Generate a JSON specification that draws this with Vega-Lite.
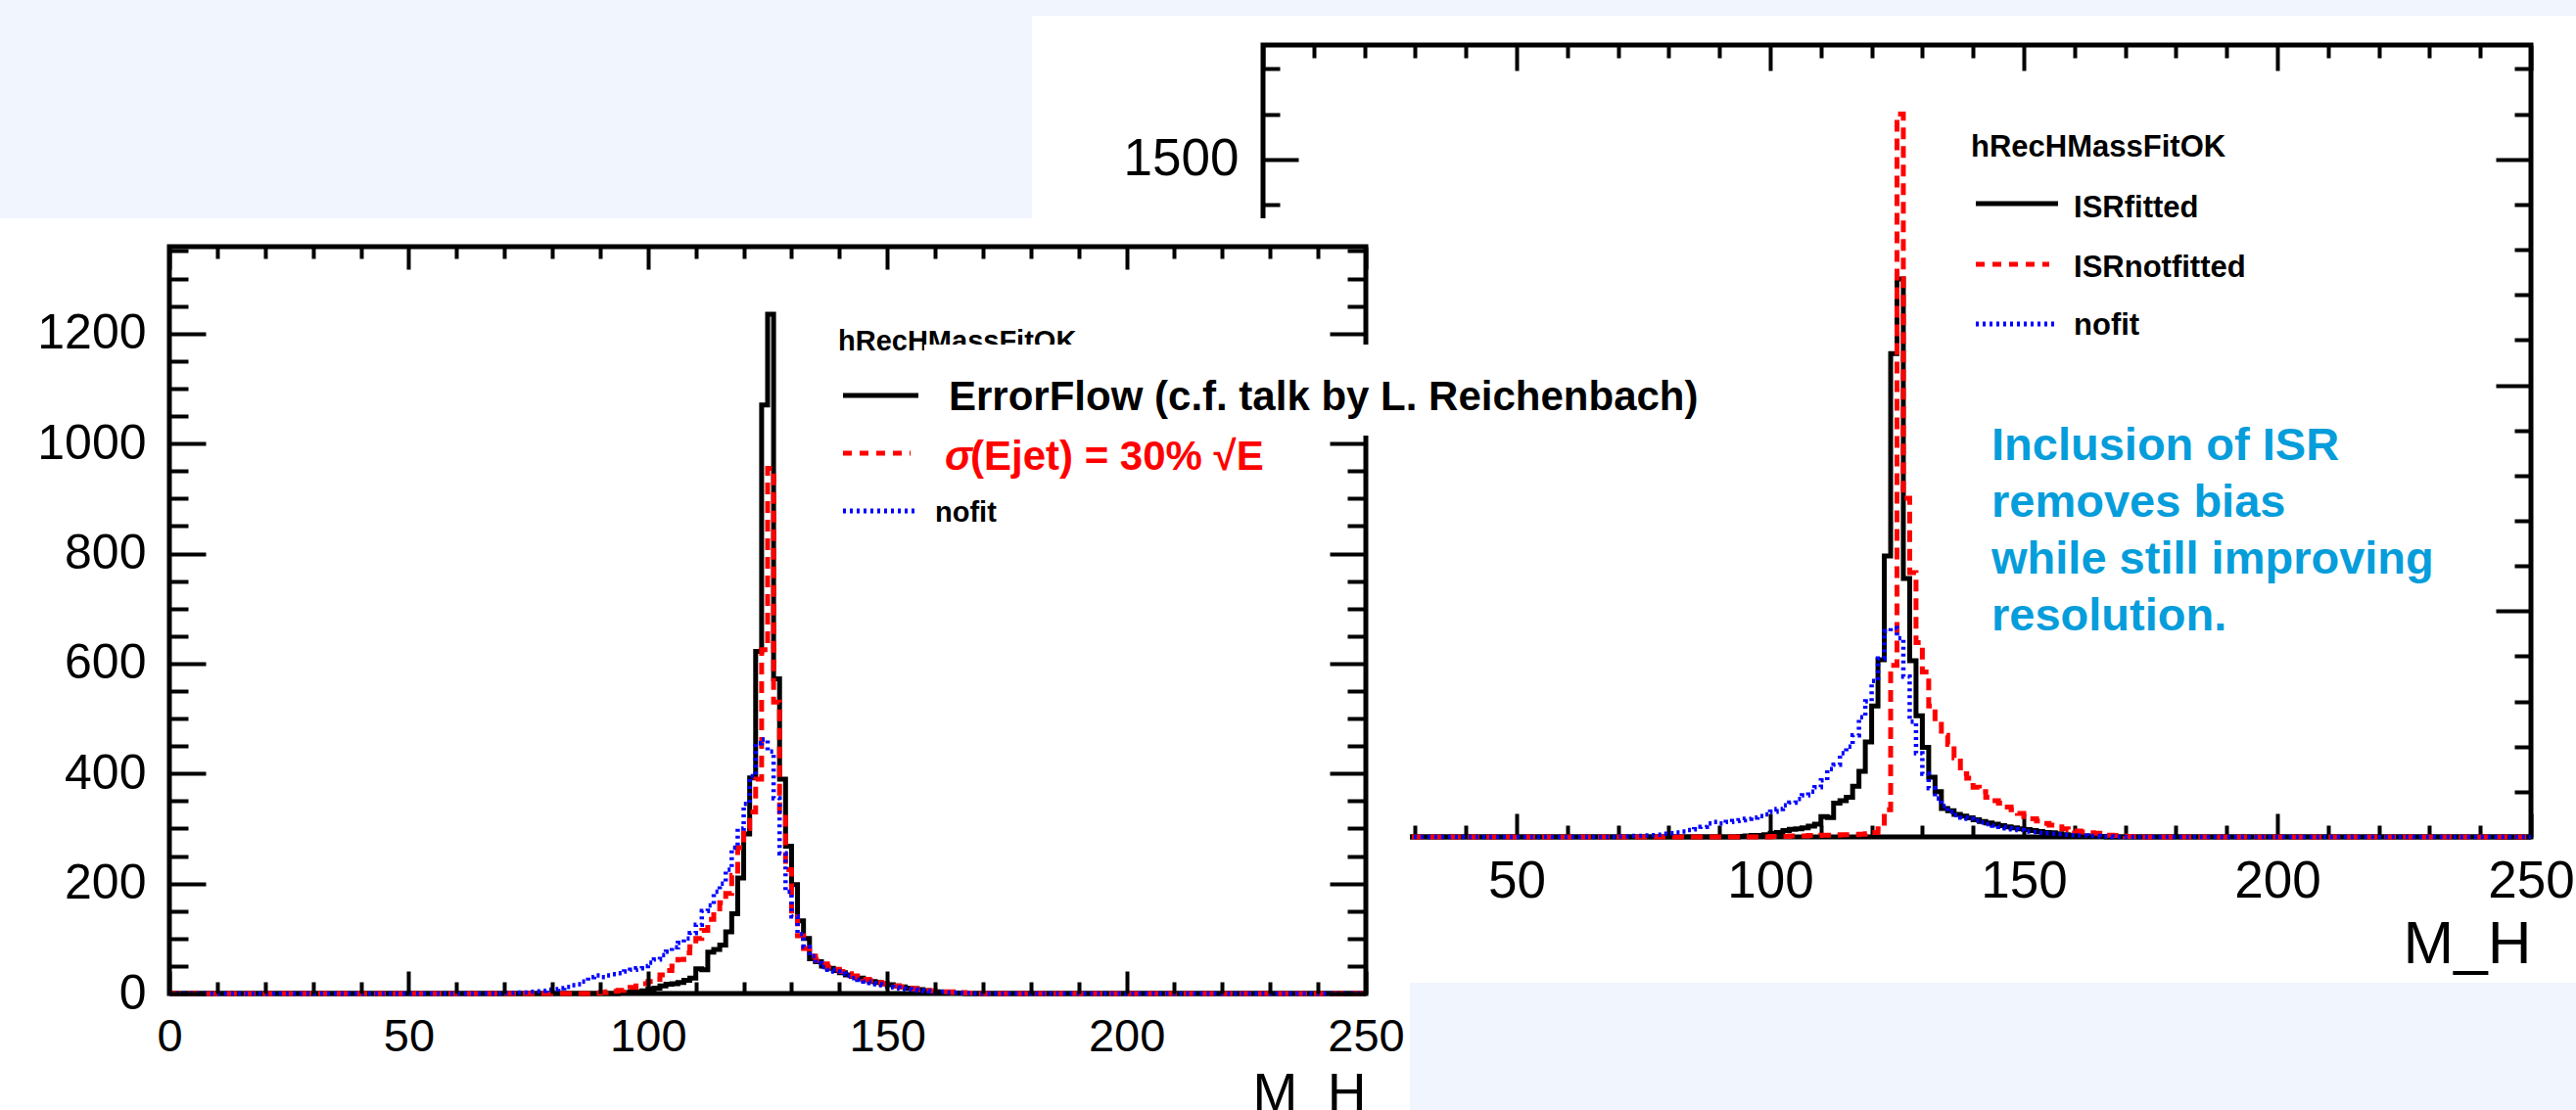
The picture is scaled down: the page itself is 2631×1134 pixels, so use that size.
{
"$schema": "https://vega.github.io/schema/vega-lite/v6.json",
"width": 2631, "height": 1134, "autosize": "none", "padding": 0,
"background": "#ffffff",
"config": {"view": {"stroke": null, "fill": null},
  "axis": {"grid": false, "domain": false, "format": "d", "labelFont": "Liberation Sans", "titleFont": "Liberation Sans", "labelColor": "#000000", "titleColor": "#000000", "tickColor": "#000000", "tickWidth": 4, "tickCap": "butt", "labelOverlap": false, "labelFlush": false, "labelBound": false},
  "text": {"font": "Liberation Sans"}},
"datasets": {
"black": [{"mass":0,"entries":0},{"mass":93.75,"entries":1},{"mass":95,"entries":2},{"mass":96.25,"entries":3},{"mass":97.5,"entries":3},{"mass":98.75,"entries":5},{"mass":100,"entries":8},{"mass":101.25,"entries":10},{"mass":102.5,"entries":14},{"mass":103.75,"entries":17},{"mass":105,"entries":18},{"mass":106.25,"entries":20},{"mass":107.5,"entries":24},{"mass":108.75,"entries":28},{"mass":110,"entries":45},{"mass":111.25,"entries":43},{"mass":112.5,"entries":75},{"mass":113.75,"entries":80},{"mass":115,"entries":88},{"mass":116.25,"entries":112},{"mass":117.5,"entries":145},{"mass":118.75,"entries":210},{"mass":120,"entries":290},{"mass":121.25,"entries":392},{"mass":122.5,"entries":622},{"mass":123.75,"entries":1070},{"mass":125,"entries":1235},{"mass":126.25,"entries":572},{"mass":127.5,"entries":390},{"mass":128.75,"entries":268},{"mass":130,"entries":198},{"mass":131.25,"entries":132},{"mass":132.5,"entries":100},{"mass":133.75,"entries":63},{"mass":135,"entries":58},{"mass":136.25,"entries":50},{"mass":137.5,"entries":46},{"mass":138.75,"entries":42},{"mass":140,"entries":38},{"mass":141.25,"entries":34},{"mass":142.5,"entries":31},{"mass":143.75,"entries":28},{"mass":145,"entries":25},{"mass":146.25,"entries":22},{"mass":147.5,"entries":20},{"mass":148.75,"entries":18},{"mass":150,"entries":16},{"mass":151.25,"entries":14},{"mass":152.5,"entries":12},{"mass":153.75,"entries":10},{"mass":155,"entries":9},{"mass":156.25,"entries":7},{"mass":157.5,"entries":5},{"mass":158.75,"entries":4},{"mass":160,"entries":3},{"mass":161.25,"entries":2},{"mass":162.5,"entries":2},{"mass":163.75,"entries":1},{"mass":165,"entries":1},{"mass":166.25,"entries":0},{"mass":250,"entries":0}],
"blue": [{"mass":0,"entries":0},{"mass":70,"entries":1},{"mass":71.25,"entries":1},{"mass":72.5,"entries":2},{"mass":73.75,"entries":2},{"mass":75,"entries":3},{"mass":76.25,"entries":4},{"mass":77.5,"entries":5},{"mass":78.75,"entries":7},{"mass":80,"entries":8},{"mass":81.25,"entries":10},{"mass":82.5,"entries":12},{"mass":83.75,"entries":15},{"mass":85,"entries":17},{"mass":86.25,"entries":22},{"mass":87.5,"entries":30},{"mass":88.75,"entries":33},{"mass":90,"entries":30},{"mass":91.25,"entries":33},{"mass":92.5,"entries":35},{"mass":93.75,"entries":37},{"mass":95,"entries":40},{"mass":96.25,"entries":43},{"mass":97.5,"entries":46},{"mass":98.75,"entries":50},{"mass":100,"entries":56},{"mass":101.25,"entries":62},{"mass":102.5,"entries":70},{"mass":103.75,"entries":76},{"mass":105,"entries":84},{"mass":106.25,"entries":92},{"mass":107.5,"entries":100},{"mass":108.75,"entries":110},{"mass":110,"entries":125},{"mass":111.25,"entries":150},{"mass":112.5,"entries":160},{"mass":113.75,"entries":185},{"mass":115,"entries":200},{"mass":116.25,"entries":225},{"mass":117.5,"entries":265},{"mass":118.75,"entries":300},{"mass":120,"entries":345},{"mass":121.25,"entries":395},{"mass":122.5,"entries":455},{"mass":123.75,"entries":462},{"mass":125,"entries":440},{"mass":126.25,"entries":355},{"mass":127.5,"entries":255},{"mass":128.75,"entries":185},{"mass":130,"entries":140},{"mass":131.25,"entries":108},{"mass":132.5,"entries":85},{"mass":133.75,"entries":68},{"mass":135,"entries":55},{"mass":136.25,"entries":48},{"mass":137.5,"entries":43},{"mass":138.75,"entries":40},{"mass":140,"entries":36},{"mass":141.25,"entries":32},{"mass":142.5,"entries":28},{"mass":143.75,"entries":25},{"mass":145,"entries":22},{"mass":146.25,"entries":19},{"mass":147.5,"entries":17},{"mass":148.75,"entries":15},{"mass":150,"entries":12},{"mass":151.25,"entries":11},{"mass":152.5,"entries":9},{"mass":153.75,"entries":8},{"mass":155,"entries":7},{"mass":156.25,"entries":6},{"mass":157.5,"entries":5},{"mass":158.75,"entries":4},{"mass":160,"entries":3},{"mass":161.25,"entries":3},{"mass":162.5,"entries":2},{"mass":163.75,"entries":2},{"mass":165,"entries":1},{"mass":166.25,"entries":1},{"mass":167.5,"entries":0},{"mass":250,"entries":0}],
"redL": [{"mass":0,"entries":0},{"mass":88.75,"entries":1},{"mass":90,"entries":2},{"mass":91.25,"entries":3},{"mass":92.5,"entries":4},{"mass":93.75,"entries":6},{"mass":95,"entries":8},{"mass":96.25,"entries":11},{"mass":97.5,"entries":14},{"mass":98.75,"entries":18},{"mass":100,"entries":22},{"mass":101.25,"entries":26},{"mass":102.5,"entries":34},{"mass":103.75,"entries":42},{"mass":105,"entries":50},{"mass":106.25,"entries":62},{"mass":107.5,"entries":74},{"mass":108.75,"entries":85},{"mass":110,"entries":100},{"mass":111.25,"entries":115},{"mass":112.5,"entries":135},{"mass":113.75,"entries":148},{"mass":115,"entries":165},{"mass":116.25,"entries":182},{"mass":117.5,"entries":215},{"mass":118.75,"entries":265},{"mass":120,"entries":300},{"mass":121.25,"entries":330},{"mass":122.5,"entries":390},{"mass":123.75,"entries":625},{"mass":125,"entries":955},{"mass":126.25,"entries":530},{"mass":127.5,"entries":330},{"mass":128.75,"entries":225},{"mass":130,"entries":150},{"mass":131.25,"entries":105},{"mass":132.5,"entries":82},{"mass":133.75,"entries":68},{"mass":135,"entries":60},{"mass":136.25,"entries":54},{"mass":137.5,"entries":48},{"mass":138.75,"entries":44},{"mass":140,"entries":40},{"mass":141.25,"entries":36},{"mass":142.5,"entries":32},{"mass":143.75,"entries":29},{"mass":145,"entries":26},{"mass":146.25,"entries":23},{"mass":147.5,"entries":20},{"mass":148.75,"entries":18},{"mass":150,"entries":16},{"mass":151.25,"entries":14},{"mass":152.5,"entries":12},{"mass":153.75,"entries":10},{"mass":155,"entries":9},{"mass":156.25,"entries":7},{"mass":157.5,"entries":6},{"mass":158.75,"entries":5},{"mass":160,"entries":4},{"mass":161.25,"entries":3},{"mass":162.5,"entries":3},{"mass":163.75,"entries":2},{"mass":165,"entries":2},{"mass":166.25,"entries":1},{"mass":167.5,"entries":1},{"mass":168.75,"entries":0},{"mass":250,"entries":0}],
"redR": [{"mass":0,"entries":0},{"mass":100,"entries":1},{"mass":101.25,"entries":1},{"mass":102.5,"entries":1},{"mass":103.75,"entries":2},{"mass":105,"entries":2},{"mass":106.25,"entries":2},{"mass":107.5,"entries":3},{"mass":108.75,"entries":3},{"mass":110,"entries":4},{"mass":111.25,"entries":4},{"mass":112.5,"entries":4},{"mass":113.75,"entries":5},{"mass":115,"entries":5},{"mass":116.25,"entries":5},{"mass":117.5,"entries":6},{"mass":118.75,"entries":7},{"mass":120,"entries":10},{"mass":121.25,"entries":18},{"mass":122.5,"entries":60},{"mass":123.75,"entries":380},{"mass":125,"entries":1600},{"mass":126.25,"entries":750},{"mass":127.5,"entries":585},{"mass":128.75,"entries":430},{"mass":130,"entries":365},{"mass":131.25,"entries":290},{"mass":132.5,"entries":255},{"mass":133.75,"entries":225},{"mass":135,"entries":205},{"mass":136.25,"entries":175},{"mass":137.5,"entries":140},{"mass":138.75,"entries":130},{"mass":140,"entries":110},{"mass":141.25,"entries":100},{"mass":142.5,"entries":88},{"mass":143.75,"entries":80},{"mass":145,"entries":75},{"mass":146.25,"entries":66},{"mass":147.5,"entries":60},{"mass":148.75,"entries":52},{"mass":150,"entries":45},{"mass":151.25,"entries":40},{"mass":152.5,"entries":35},{"mass":153.75,"entries":30},{"mass":155,"entries":26},{"mass":156.25,"entries":22},{"mass":157.5,"entries":18},{"mass":158.75,"entries":16},{"mass":160,"entries":13},{"mass":161.25,"entries":11},{"mass":162.5,"entries":9},{"mass":163.75,"entries":8},{"mass":165,"entries":6},{"mass":166.25,"entries":4},{"mass":167.5,"entries":3},{"mass":168.75,"entries":2},{"mass":170,"entries":1},{"mass":171.25,"entries":1},{"mass":172.5,"entries":0},{"mass":250,"entries":0}]
},
"resolve": {"scale": {"x": "independent", "y": "independent"}},
"layer": [
{
"resolve": {"axis": {"x": "independent", "y": "independent"}},
"layer": [
 {"data": {"values": [{}]}, "mark": {"type": "rect", "color": "#f0f5fe"},
  "encoding": {
   "x": {"datum": -260, "type": "quantitative", "scale": {"domain": [0,250], "range": [1290,2585], "nice": false, "zero": false},
     "axis": {"orient": "bottom", "offset": -279, "values": [0,50,100,150,200,250], "ticks": false, "tickSize": 0, "labelPadding": 19, "labelFontSize": 53, "title": "M_H", "titleFontSize": 62, "titleFontWeight": "normal", "titleX": 2585, "titleY": 128, "titleAlign": "right", "titleBaseline": "alphabetic", "zindex": 0}},
   "x2": {"datum": -45.56},
   "y": {"datum": 1900, "type": "quantitative", "scale": {"domain": [0,1753], "range": [855,46], "nice": false, "zero": false},
     "axis": {"orient": "left", "offset": -1290, "values": [0,500,1000,1500], "ticks": false, "tickSize": 0, "labelPadding": 25, "labelFontSize": 53, "title": null, "zindex": 0}},
   "y2": {"datum": 1369.4}}},
 {"data": {"values": [{}]}, "mark": {"type": "rect", "color": "#f0f5fe"},
  "encoding": {
   "x": {"datum": -45.56, "type": "quantitative", "scale": {"domain": [0,250], "range": [1290,2585], "nice": false, "zero": false},
     "axis": {"orient": "bottom", "offset": -279, "values": [0,50,100,150,200,250], "labels": false, "tickSize": -24, "title": null, "zindex": 0}},
   "x2": {"datum": 270},
   "y": {"datum": 1900, "type": "quantitative", "scale": {"domain": [0,1753], "range": [855,46], "nice": false, "zero": false},
     "axis": {"orient": "left", "offset": -1290, "values": [0,500,1000,1500], "labels": false, "tickSize": -36, "title": null, "zindex": 0}},
   "y2": {"datum": 1818}}},
 {"data": {"values": [{}]}, "mark": {"type": "rect", "color": "#f0f5fe"},
  "encoding": {
   "x": {"datum": 28.96, "type": "quantitative", "scale": {"domain": [0,250], "range": [1290,2585], "nice": false, "zero": false},
     "axis": {"orient": "bottom", "offset": -279, "values": [10,20,30,40,60,70,80,90,110,120,130,140,160,170,180,190,210,220,230,240], "labels": false, "tickSize": -12, "title": null, "zindex": 0}},
   "x2": {"datum": 270},
   "y": {"datum": -322.9, "type": "quantitative", "scale": {"domain": [0,1753], "range": [855,46], "nice": false, "zero": false},
     "axis": {"orient": "left", "offset": -1290, "values": [100,200,300,400,600,700,800,900,1100,1200,1300,1400,1600,1700], "labels": false, "tickSize": -17, "title": null, "zindex": 0}},
   "y2": {"datum": -650}}},
 {"data": {"values": [{}]}, "mark": {"type": "rect", "filled": false, "color": "#000000", "strokeWidth": 5},
  "encoding": {
   "x": {"datum": 0, "type": "quantitative", "scale": {"domain": [0,250], "range": [1290,2585], "nice": false, "zero": false},
     "axis": {"orient": "top", "offset": -46, "values": [0,50,100,150,200,250], "labels": false, "tickSize": -26, "title": null, "zindex": 0}},
   "x2": {"datum": 250},
   "y": {"datum": 0, "type": "quantitative", "scale": {"domain": [0,1753], "range": [855,46], "nice": false, "zero": false},
     "axis": {"orient": "right", "offset": -46, "values": [0,500,1000,1500], "labels": false, "tickSize": -36, "title": null, "zindex": 0}},
   "y2": {"datum": 1753}}},
 {"data": {"name": "black"}, "mark": {"type": "line", "interpolate": "step-after", "color": "#000000", "strokeWidth": 5},
  "encoding": {
   "x": {"field": "mass", "type": "quantitative", "scale": {"domain": [0,250], "range": [1290,2585], "nice": false, "zero": false},
     "axis": {"orient": "top", "offset": -46, "values": [10,20,30,40,60,70,80,90,110,120,130,140,160,170,180,190,210,220,230,240], "labels": false, "tickSize": -13, "title": null, "zindex": 0}},
   "y": {"field": "entries", "type": "quantitative", "scale": {"domain": [0,1753], "range": [855,46], "nice": false, "zero": false},
     "axis": {"orient": "right", "offset": -46, "values": [100,200,300,400,600,700,800,900,1100,1200,1300,1400,1600,1700], "labels": false, "tickSize": -17, "title": null, "zindex": 0}}}},
 {"data": {"name": "redR"}, "mark": {"type": "line", "interpolate": "step-after", "color": "#ff0000", "strokeWidth": 5, "strokeDash": [12,7]},
  "encoding": {
   "x": {"field": "mass", "type": "quantitative", "scale": {"domain": [0,250], "range": [1290,2585], "nice": false, "zero": false}, "axis": null},
   "y": {"field": "entries", "type": "quantitative", "scale": {"domain": [0,1753], "range": [855,46], "nice": false, "zero": false}, "axis": null}}},
 {"data": {"name": "blue"}, "mark": {"type": "line", "interpolate": "step-after", "color": "#0000ff", "strokeWidth": 4.5, "strokeDash": [3,4]},
  "encoding": {
   "x": {"field": "mass", "type": "quantitative", "scale": {"domain": [0,250], "range": [1290,2585], "nice": false, "zero": false}, "axis": null},
   "y": {"field": "entries", "type": "quantitative", "scale": {"domain": [0,1753], "range": [855,46], "nice": false, "zero": false}, "axis": null}}},
 {"data": {"values": [{}]}, "mark": {"type": "text", "text": "hRecHMassFitOK", "fontWeight": "bold", "fontSize": 31, "align": "left", "baseline": "alphabetic", "color": "#000000"},
  "encoding": {
   "x": {"datum": 139.58, "type": "quantitative", "scale": {"domain": [0,250], "range": [1290,2585], "nice": false, "zero": false}, "axis": null},
   "y": {"datum": 1506.0, "type": "quantitative", "scale": {"domain": [0,1753], "range": [855,46], "nice": false, "zero": false}, "axis": null}}},
 {"data": {"values": [{}]}, "mark": {"type": "rule", "color": "#000000", "strokeWidth": 5},
  "encoding": {
   "x": {"datum": 140.54, "type": "quantitative", "scale": {"domain": [0,250], "range": [1290,2585], "nice": false, "zero": false}, "axis": null},
   "x2": {"datum": 156.76},
   "y": {"datum": 1401.95, "type": "quantitative", "scale": {"domain": [0,1753], "range": [855,46], "nice": false, "zero": false}, "axis": null}}},
 {"data": {"values": [{}]}, "mark": {"type": "text", "text": "ISRfitted", "fontWeight": "bold", "fontSize": 31, "align": "left", "baseline": "alphabetic", "color": "#000000"},
  "encoding": {
   "x": {"datum": 159.85, "type": "quantitative", "scale": {"domain": [0,250], "range": [1290,2585], "nice": false, "zero": false}, "axis": null},
   "y": {"datum": 1371.6, "type": "quantitative", "scale": {"domain": [0,1753], "range": [855,46], "nice": false, "zero": false}, "axis": null}}},
 {"data": {"values": [{}]}, "mark": {"type": "rule", "color": "#ff0000", "strokeWidth": 5, "strokeDash": [9,8]},
  "encoding": {
   "x": {"datum": 140.54, "type": "quantitative", "scale": {"domain": [0,250], "range": [1290,2585], "nice": false, "zero": false}, "axis": null},
   "x2": {"datum": 155.02},
   "y": {"datum": 1267.6, "type": "quantitative", "scale": {"domain": [0,1753], "range": [855,46], "nice": false, "zero": false}, "axis": null}}},
 {"data": {"values": [{}]}, "mark": {"type": "text", "text": "ISRnotfitted", "fontWeight": "bold", "fontSize": 31, "align": "left", "baseline": "alphabetic", "color": "#000000"},
  "encoding": {
   "x": {"datum": 159.85, "type": "quantitative", "scale": {"domain": [0,250], "range": [1290,2585], "nice": false, "zero": false}, "axis": null},
   "y": {"datum": 1239.4, "type": "quantitative", "scale": {"domain": [0,1753], "range": [855,46], "nice": false, "zero": false}, "axis": null}}},
 {"data": {"values": [{}]}, "mark": {"type": "rule", "color": "#0000ff", "strokeWidth": 5, "strokeDash": [3,4]},
  "encoding": {
   "x": {"datum": 140.54, "type": "quantitative", "scale": {"domain": [0,250], "range": [1290,2585], "nice": false, "zero": false}, "axis": null},
   "x2": {"datum": 156.76},
   "y": {"datum": 1135.4, "type": "quantitative", "scale": {"domain": [0,1753], "range": [855,46], "nice": false, "zero": false}, "axis": null}}},
 {"data": {"values": [{}]}, "mark": {"type": "text", "text": "nofit", "fontWeight": "bold", "fontSize": 31, "align": "left", "baseline": "alphabetic", "color": "#000000"},
  "encoding": {
   "x": {"datum": 159.85, "type": "quantitative", "scale": {"domain": [0,250], "range": [1290,2585], "nice": false, "zero": false}, "axis": null},
   "y": {"datum": 1111.6, "type": "quantitative", "scale": {"domain": [0,1753], "range": [855,46], "nice": false, "zero": false}, "axis": null}}},
 {"data": {"values": [{}]}, "mark": {"type": "text", "text": ["Inclusion of ISR", "removes bias", "while still improving", "resolution."], "lineHeight": 58, "fontWeight": "bold", "fontSize": 47, "align": "left", "baseline": "alphabetic", "color": "#069ddb"},
  "encoding": {
   "x": {"datum": 143.63, "type": "quantitative", "scale": {"domain": [0,250], "range": [1290,2585], "nice": false, "zero": false}, "axis": null},
   "y": {"datum": 834.2, "type": "quantitative", "scale": {"domain": [0,1753], "range": [855,46], "nice": false, "zero": false}, "axis": null}}}
]
},
{
"resolve": {"axis": {"x": "independent", "y": "independent"}},
"layer": [
 {"data": {"values": [{}]}, "mark": {"type": "rect", "color": "#ffffff"},
  "encoding": {
   "x": {"datum": -40, "type": "quantitative", "scale": {"domain": [0,250], "range": [173,1395], "nice": false, "zero": false},
     "axis": {"orient": "bottom", "offset": -119, "values": [0,50,100,150,200,250], "ticks": false, "tickSize": 0, "labelPadding": 21, "labelFontSize": 47, "title": "M_H", "titleFontSize": 55, "titleFontWeight": "normal", "titleX": 1395, "titleY": 119, "titleAlign": "right", "titleBaseline": "alphabetic", "zindex": 1}},
   "x2": {"datum": 259.21},
   "y": {"datum": 1409.5, "type": "quantitative", "scale": {"domain": [0,1358], "range": [1015,252], "nice": false, "zero": false},
     "axis": {"orient": "left", "offset": -173, "values": [0,200,400,600,800,1000,1200], "ticks": false, "tickSize": 0, "labelPadding": 24, "labelFontSize": 50, "title": null, "zindex": 1}},
   "y2": {"datum": -250}}},
 {"data": {"values": [{}]}, "mark": {"type": "rect", "filled": false, "color": "#000000", "strokeWidth": 5},
  "encoding": {
   "x": {"datum": 0, "type": "quantitative", "scale": {"domain": [0,250], "range": [173,1395], "nice": false, "zero": false},
     "axis": {"orient": "bottom", "offset": -119, "values": [0,50,100,150,200,250], "labels": false, "tickSize": -23, "title": null, "zindex": 1}},
   "x2": {"datum": 250},
   "y": {"datum": 0, "type": "quantitative", "scale": {"domain": [0,1358], "range": [1015,252], "nice": false, "zero": false},
     "axis": {"orient": "left", "offset": -173, "values": [0,200,400,600,800,1000,1200], "labels": false, "tickSize": -37, "title": null, "zindex": 1}},
   "y2": {"datum": 1358}}},
 {"data": {"name": "black"}, "mark": {"type": "line", "interpolate": "step-after", "color": "#000000", "strokeWidth": 5},
  "encoding": {
   "x": {"field": "mass", "type": "quantitative", "scale": {"domain": [0,250], "range": [173,1395], "nice": false, "zero": false},
     "axis": {"orient": "bottom", "offset": -119, "values": [10,20,30,40,60,70,80,90,110,120,130,140,160,170,180,190,210,220,230,240], "labels": false, "tickSize": -12, "title": null, "zindex": 1}},
   "y": {"field": "entries", "type": "quantitative", "scale": {"domain": [0,1358], "range": [1015,252], "nice": false, "zero": false},
     "axis": {"orient": "left", "offset": -173, "values": [50,100,150,250,300,350,450,500,550,650,700,750,850,900,950,1050,1100,1150,1250,1300,1350], "labels": false, "tickSize": -19, "title": null, "zindex": 1}}}},
 {"data": {"name": "redL"}, "mark": {"type": "line", "interpolate": "step-after", "color": "#ff0000", "strokeWidth": 5, "strokeDash": [12,7]},
  "encoding": {
   "x": {"field": "mass", "type": "quantitative", "scale": {"domain": [0,250], "range": [173,1395], "nice": false, "zero": false},
     "axis": {"orient": "top", "offset": -252, "values": [0,50,100,150,200,250], "labels": false, "tickSize": -23, "title": null, "zindex": 1}},
   "y": {"field": "entries", "type": "quantitative", "scale": {"domain": [0,1358], "range": [1015,252], "nice": false, "zero": false},
     "axis": {"orient": "right", "offset": -1236, "values": [0,200,400,600,800,1000,1200], "labels": false, "tickSize": -37, "title": null, "zindex": 1}}}},
 {"data": {"name": "blue"}, "mark": {"type": "line", "interpolate": "step-after", "color": "#0000ff", "strokeWidth": 4.5, "strokeDash": [3,4]},
  "encoding": {
   "x": {"field": "mass", "type": "quantitative", "scale": {"domain": [0,250], "range": [173,1395], "nice": false, "zero": false},
     "axis": {"orient": "top", "offset": -252, "values": [10,20,30,40,60,70,80,90,110,120,130,140,160,170,180,190,210,220,230,240], "labels": false, "tickSize": -12, "title": null, "zindex": 1}},
   "y": {"field": "entries", "type": "quantitative", "scale": {"domain": [0,1358], "range": [1015,252], "nice": false, "zero": false},
     "axis": {"orient": "right", "offset": -1236, "values": [50,100,150,250,300,350,450,500,550,650,700,750,850,900,950,1250,1300,1350], "labels": false, "tickSize": -19, "title": null, "zindex": 1}}}},
 {"data": {"values": [{}]}, "mark": {"type": "text", "text": "hRecHMassFitOK", "fontWeight": "bold", "fontSize": 29, "align": "left", "baseline": "alphabetic", "color": "#000000"},
  "encoding": {
   "x": {"datum": 139.73, "type": "quantitative", "scale": {"domain": [0,250], "range": [173,1395], "nice": false, "zero": false}, "axis": null},
   "y": {"datum": 1169.25, "type": "quantitative", "scale": {"domain": [0,1358], "range": [1015,252], "nice": false, "zero": false}, "axis": null}}},
 {"data": {"values": [{}]}, "mark": {"type": "rect", "color": "#ffffff"},
  "encoding": {
   "x": {"datum": 157.73, "type": "quantitative", "scale": {"domain": [0,250], "range": [173,1395], "nice": false, "zero": false}, "axis": null},
   "x2": {"datum": 324.67},
   "y": {"datum": 1180.0, "type": "quantitative", "scale": {"domain": [0,1358], "range": [1015,252], "nice": false, "zero": false}, "axis": null},
   "y2": {"datum": 1014.4}}},
 {"data": {"values": [{}]}, "mark": {"type": "text", "text": "ErrorFlow (c.f. talk by L. Reichenbach)", "fontWeight": "bold", "fontSize": 42, "align": "left", "baseline": "alphabetic", "color": "#000000"},
  "encoding": {
   "x": {"datum": 162.85, "type": "quantitative", "scale": {"domain": [0,250], "range": [173,1395], "nice": false, "zero": false}, "axis": null},
   "y": {"datum": 1060.7, "type": "quantitative", "scale": {"domain": [0,1358], "range": [1015,252], "nice": false, "zero": false}, "axis": null}}},
 {"data": {"values": [{}]}, "mark": {"type": "rule", "color": "#000000", "strokeWidth": 5},
  "encoding": {
   "x": {"datum": 140.75, "type": "quantitative", "scale": {"domain": [0,250], "range": [173,1395], "nice": false, "zero": false}, "axis": null},
   "x2": {"datum": 156.5},
   "y": {"datum": 1087.4, "type": "quantitative", "scale": {"domain": [0,1358], "range": [1015,252], "nice": false, "zero": false}, "axis": null}}},
 {"data": {"values": [{}]}, "mark": {"type": "text", "text": "σ", "fontWeight": "bold", "fontStyle": "italic", "fontSize": 42, "align": "left", "baseline": "alphabetic", "color": "#ff0000"},
  "encoding": {
   "x": {"datum": 162.03, "type": "quantitative", "scale": {"domain": [0,250], "range": [173,1395], "nice": false, "zero": false}, "axis": null},
   "y": {"datum": 952.1, "type": "quantitative", "scale": {"domain": [0,1358], "range": [1015,252], "nice": false, "zero": false}, "axis": null}}},
 {"data": {"values": [{}]}, "mark": {"type": "text", "text": "(Ejet) = 30% √E", "fontWeight": "bold", "fontSize": 42, "align": "left", "baseline": "alphabetic", "color": "#ff0000"},
  "encoding": {
   "x": {"datum": 167.35, "type": "quantitative", "scale": {"domain": [0,250], "range": [173,1395], "nice": false, "zero": false}, "axis": null},
   "y": {"datum": 952.1, "type": "quantitative", "scale": {"domain": [0,1358], "range": [1015,252], "nice": false, "zero": false}, "axis": null}}},
 {"data": {"values": [{}]}, "mark": {"type": "rule", "color": "#ff0000", "strokeWidth": 5, "strokeDash": [9,8]},
  "encoding": {
   "x": {"datum": 140.75, "type": "quantitative", "scale": {"domain": [0,250], "range": [173,1395], "nice": false, "zero": false}, "axis": null},
   "x2": {"datum": 154.87},
   "y": {"datum": 982.4, "type": "quantitative", "scale": {"domain": [0,1358], "range": [1015,252], "nice": false, "zero": false}, "axis": null}}},
 {"data": {"values": [{}]}, "mark": {"type": "text", "text": "nofit", "fontWeight": "bold", "fontSize": 29, "align": "left", "baseline": "alphabetic", "color": "#000000"},
  "encoding": {
   "x": {"datum": 159.98, "type": "quantitative", "scale": {"domain": [0,250], "range": [173,1395], "nice": false, "zero": false}, "axis": null},
   "y": {"datum": 857.8, "type": "quantitative", "scale": {"domain": [0,1358], "range": [1015,252], "nice": false, "zero": false}, "axis": null}}},
 {"data": {"values": [{}]}, "mark": {"type": "rule", "color": "#0000ff", "strokeWidth": 5, "strokeDash": [3,4]},
  "encoding": {
   "x": {"datum": 140.75, "type": "quantitative", "scale": {"domain": [0,250], "range": [173,1395], "nice": false, "zero": false}, "axis": null},
   "x2": {"datum": 155.69},
   "y": {"datum": 877.4, "type": "quantitative", "scale": {"domain": [0,1358], "range": [1015,252], "nice": false, "zero": false}, "axis": null}}}
]
}
]
}
